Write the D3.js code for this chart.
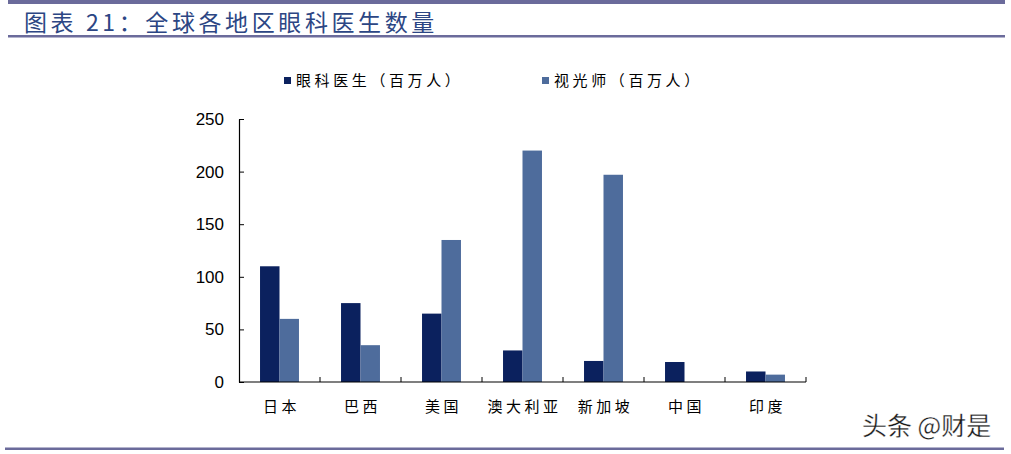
<!DOCTYPE html>
<html>
<head>
<meta charset="utf-8">
<script src="https://cdn.jsdelivr.net/npm/d3@7"></script>
<style>
  body { margin: 0; background: #fff; }
  svg { display: block; }
</style>
</head>
<body>
<div id="chart"></div>
<script>
// data
const regions = ["日本", "巴西", "美国", "澳大利亚", "新加坡", "中国", "印度"];
const doctors = [110, 75, 65, 30, 20, 19, 10];
const optometrists = [60, 35, 135, 220, 197, 0, 7];
const seriesNames = ["眼科医生（百万人）", "视光师（百万人）"];
const yTicks = [0, 50, 100, 150, 200, 250];

const colors = ["#0b215e", "#4e6c9c"];
const W = 1011, H = 454;

const svg = d3.select("#chart")
  .append("svg")
  .attr("width", W)
  .attr("height", H);

// header bars and title
svg.append("rect").attr("x", 8).attr("y", 0).attr("width", 997).attr("height", 4).attr("fill", "#6b6b9b");
svg.append("rect").attr("x", 8).attr("y", 35).attr("width", 997).attr("height", 2.5).attr("fill", "#6b6b9b");
svg.append("rect").attr("x", 5).attr("y", 447.5).attr("width", 999).attr("height", 2.5).attr("fill", "#6b6b9b");

svg.append("text")
  .attr("x", 24)
  .attr("y", 31)
  .attr("font-family", "'Noto Sans CJK SC', sans-serif")
  .attr("font-size", 23)
  .attr("letter-spacing", 3.6)
  .attr("fill", "#2c4684")
  .text("图表 21：全球各地区眼科医生数量");

// plot area
const margin = { top: 119, left: 239, right: 1011 - 806, bottom: 454 - 382 };
const width = W - margin.left - margin.right;
const height = H - margin.top - margin.bottom;

const g = svg.append("g")
  .attr("transform", `translate(${margin.left}, ${margin.top})`);

const x = d3.scaleBand().domain(regions).range([0, width]);
const xInner = d3.scaleBand().domain([0, 1]).range([0, x.bandwidth()]).paddingOuter(1.08).paddingInner(0);
const y = d3.scaleLinear().domain([0, 250]).range([height, 0]);

// bars
const rows = regions.map((r, i) => ({ region: r, values: [doctors[i], optometrists[i]] }));
g.append("g")
  .selectAll("g")
  .data(rows)
  .join("g")
  .attr("transform", d => `translate(${x(d.region)}, 0)`)
  .selectAll("rect")
  .data(d => d.values.map((v, k) => ({ k, v })))
  .join("rect")
  .attr("x", d => xInner(d.k))
  .attr("width", xInner.bandwidth())
  .attr("y", d => y(d.v))
  .attr("height", d => height - y(d.v))
  .attr("fill", d => colors[d.k]);

// y axis (ticks point inward)
const yAxis = g.append("g")
  .call(d3.axisRight(y).tickValues(yTicks).tickSize(5).tickSizeOuter(0).tickFormat(d3.format("d")));
yAxis.select(".domain").attr("stroke", "#000").attr("stroke-width", 1.2);
yAxis.selectAll(".tick line").attr("stroke", "#000");
yAxis.selectAll(".tick text")
  .attr("x", -15)
  .attr("text-anchor", "end")
  .attr("font-family", "Arial, 'Liberation Sans', sans-serif")
  .attr("font-size", 17)
  .attr("fill", "#000");

// x axis: category boundaries with inward ticks
const xAxis = g.append("g").attr("transform", `translate(0, ${height})`);
xAxis.append("line")
  .attr("x1", 0).attr("x2", width)
  .attr("stroke", "#000").attr("stroke-width", 1.2);
xAxis.selectAll("line.tick")
  .data(regions)
  .join("line")
  .attr("class", "tick")
  .attr("x1", d => x(d) + x.bandwidth())
  .attr("x2", d => x(d) + x.bandwidth())
  .attr("y1", 0).attr("y2", -5)
  .attr("stroke", "#000");
xAxis.selectAll("text")
  .data(regions)
  .join("text")
  .attr("x", d => x(d) + x.bandwidth() / 2 + 2)
  .attr("y", 30)
  .attr("text-anchor", "middle")
  .attr("font-family", "'Noto Sans CJK SC', sans-serif")
  .attr("font-size", 15)
  .attr("letter-spacing", 3.5)
  .attr("fill", "#000")
  .text(d => d);

// legend
const legendX = [284, 542];
const legend = svg.append("g")
  .selectAll("g")
  .data(seriesNames)
  .join("g")
  .attr("transform", (d, i) => `translate(${legendX[i]}, 77)`);
legend.append("rect")
  .attr("y", 0).attr("width", 7).attr("height", 7)
  .attr("fill", (d, i) => colors[i]);
legend.append("text")
  .attr("x", 12)
  .attr("y", 9)
  .attr("font-family", "'Noto Sans CJK SC', sans-serif")
  .attr("font-size", 15)
  .attr("letter-spacing", 3.6)
  .attr("fill", "#000")
  .text(d => d);

// watermark
svg.append("text")
  .attr("x", 862)
  .attr("y", 435)
  .attr("font-family", "'Noto Sans CJK SC', sans-serif")
  .attr("font-size", 25)
  .attr("fill", "#1a1a1a")
  .attr("stroke", "#fff")
  .attr("stroke-width", 0.3)
  .text("头条 @财是");
</script>
</body>
</html>
